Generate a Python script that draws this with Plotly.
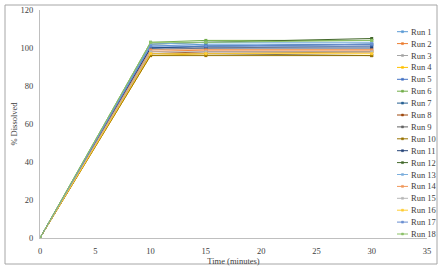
import plotly.graph_objects as go

times = [0, 10, 15, 30]
run_names = [f"Run {i}" for i in range(1, 19)]
run_values = [
    [0, 101, 102, 102],
    [0, 98, 99, 99],
    [0, 99, 100, 101],
    [0, 96, 97, 98],
    [0, 100, 101, 101],
    [0, 103, 104, 104],
    [0, 100, 101, 102],
    [0, 97, 98, 98],
    [0, 97, 97, 96],
    [0, 96, 96, 96],
    [0, 100, 100, 100],
    [0, 102, 103, 105],
    [0, 102, 103, 103],
    [0, 99, 99, 99],
    [0, 98, 98, 98],
    [0, 97, 97, 97],
    [0, 101, 101, 102],
    [0, 103, 103, 104],
]
colors = ["#5B9BD5", "#ED7D31", "#A5A5A5", "#FFC000", "#4472C4", "#70AD47",
          "#255E91", "#9E480E", "#636363", "#997300", "#264478", "#43682B",
          "#7CAFDD", "#F1975A", "#B7B7B7", "#FFCD33", "#698ED0", "#8CC168"]

W, H = 443, 270
ml, mr, mt, mb = 40, 16, 10, 32
pw, ph = W - ml - mr, H - mt - mb

def px_x(x):
    return (x - ml) / pw

def px_y(y):
    return (H - mb - y) / ph

FONT = "Liberation Serif, Times New Roman, serif"

fig = go.Figure()
for name, vals, c in zip(run_names, run_values, colors):
    fig.add_trace(go.Scatter(x=times, y=vals, name=name, mode="lines+markers",
                             line=dict(color=c, width=1.0),
                             marker=dict(color=c, size=3, symbol="square"),
                             showlegend=False))

shapes = [dict(type="rect", xref="paper", yref="paper",
               x0=px_x(5), x1=px_x(437), y0=px_y(264), y1=px_y(5),
               line=dict(color="#A6A6A6", width=1), fillcolor="rgba(0,0,0,0)", layer="below")]
annotations = []
for i, (name, c) in enumerate(zip(run_names, colors)):
    yy = 31.7 + i * 11.9
    shapes.append(dict(type="line", xref="paper", yref="paper",
                       x0=px_x(397), x1=px_x(408), y0=px_y(yy), y1=px_y(yy),
                       line=dict(color=c, width=1.0)))
    shapes.append(dict(type="rect", xref="paper", yref="paper",
                       x0=px_x(401.5), x1=px_x(403.5), y0=px_y(yy + 1), y1=px_y(yy - 1),
                       line=dict(color=c, width=0.5), fillcolor=c))
    annotations.append(dict(text=name, xref="paper", yref="paper",
                            x=px_x(409), y=px_y(yy), xanchor="left", yanchor="middle",
                            showarrow=False, font=dict(family=FONT, size=8.5, color="#404040")))

fig.update_layout(
    width=W, height=H,
    margin=dict(l=ml, r=mr, t=mt, b=mb),
    paper_bgcolor="white", plot_bgcolor="white",
    font=dict(family=FONT, size=8, color="#404040"),
    shapes=shapes, annotations=annotations,
    xaxis=dict(range=[0, 35], dtick=5, showgrid=False, zeroline=False,
               showline=True, linecolor="#BFBFBF", linewidth=1, ticks="",
               ticklabelstandoff=5, automargin=False,
               tickfont=dict(family=FONT, size=8.5, color="#404040"),
               title=dict(text="Time (minutes)", standoff=1,
                          font=dict(family=FONT, size=8.5, color="#404040"))),
    yaxis=dict(range=[0, 120], dtick=20, showgrid=False, zeroline=False,
               showline=True, linecolor="#BFBFBF", linewidth=1, ticks="",
               ticklabelstandoff=4, automargin=False,
               tickfont=dict(family=FONT, size=8.5, color="#404040"),
               title=dict(text="% Dissolved", standoff=1,
                          font=dict(family=FONT, size=8.5, color="#404040"))),
)
fig.write_html("out.html")
